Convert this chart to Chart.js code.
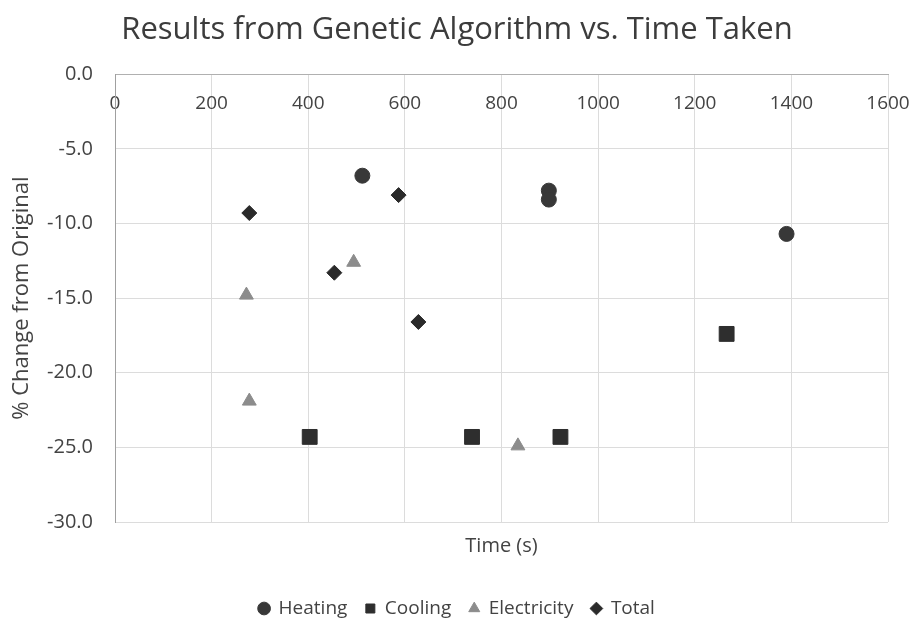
<!DOCTYPE html>
<html>
<head>
<meta charset="utf-8">
<script src="https://cdn.jsdelivr.net/npm/chart.js@4"></script>
<style>
  html, body { margin: 0; padding: 0; background: #ffffff; }
  #wrap { width: 914px; height: 622px; position: relative; }
</style>
</head>
<body>
<div id="wrap"><canvas id="chart" width="914" height="622"></canvas></div>
<script>
// Run time (s) and % change for each optimisation objective
const heatingTime = [512, 898, 898, 1390];
const heatingChange = [-6.8, -7.8, -8.4, -10.7];

const coolingTime = [403, 739, 922, 1266];
const coolingChange = [-24.3, -24.3, -24.3, -17.4];

const electricityTime = [272, 278, 494, 834];
const electricityChange = [-14.8, -21.9, -12.6, -24.9];

const totalTime = [278, 454, 587, 628];
const totalChange = [-9.3, -13.3, -8.1, -16.6];

const xTicks = [0, 200, 400, 600, 800, 1000, 1200, 1400, 1600];
const yTicks = [0, -5, -10, -15, -20, -25, -30];

const FONT = "'Open Sans', 'Noto Sans', sans-serif";
const TEXT = '#434343';
const GRID = '#dcdcdc';

function toPoints(xs, ys) {
  return xs.map((x, i) => ({ x: x, y: ys[i] }));
}

function series(label, xs, ys, style, color, radius) {
  return {
    label: label,
    data: toPoints(xs, ys),
    pointStyle: style,
    pointRadius: radius,
    pointHoverRadius: radius,
    backgroundColor: color,
    borderColor: color,
    borderWidth: 1,
    showLine: false
  };
}

new Chart(document.getElementById('chart'), {
  type: 'scatter',
  data: {
    datasets: [
      series('Heating', heatingTime, heatingChange, 'circle', '#383838', 7.5),
      series('Cooling', coolingTime, coolingChange, 'rect', '#2e2e2e', 10.5),
      series('Electricity', electricityTime, electricityChange, 'triangle', '#8c8c8c', 8),
      series('Total', totalTime, totalChange, 'rectRot', '#2a2a2a', 7.5)
    ]
  },
  options: {
    responsive: false,
    animation: false,
    layout: { padding: { left: 26, right: 26, top: 0, bottom: -6 } },
    scales: {
      x: {
        type: 'linear',
        position: { y: 0 },
        min: 0,
        max: 1600,
        afterBuildTicks: (scale) => { scale.ticks = xTicks.map(v => ({ value: v })); },
        // the end labels may overhang the plot edges
        afterFit: (scale) => { scale.paddingLeft = 0; scale.paddingRight = 0; },
        ticks: {
          color: TEXT,
          font: { family: FONT, size: 19 },
          padding: 18,
          callback: (v) => String(v)
        },
        grid: { color: GRID, lineWidth: 1, drawTicks: false },
        border: { display: true, color: '#b0b0b0' }
      },
      x2: {
        type: 'linear',
        position: 'bottom',
        min: 0,
        max: 1600,
        ticks: { display: false },
        grid: { display: false, drawTicks: false },
        border: { display: false },
        title: { display: true, text: 'Time (s)', color: TEXT, font: { family: FONT, size: 20 }, padding: { top: 12, bottom: 23 } }
      },
      y: {
        type: 'linear',
        min: -30,
        max: 0,
        afterBuildTicks: (scale) => { scale.ticks = yTicks.map(v => ({ value: v })); },
        afterFit: (scale) => { scale.width = 89; },
        ticks: {
          color: TEXT,
          font: { family: FONT, size: 20 },
          padding: 22,
          callback: (v) => Number(v).toFixed(1)
        },
        grid: { color: GRID, lineWidth: 1, drawTicks: false },
        border: { display: true, color: '#a0a0a0' },
        title: { display: true, text: '% Change from Original', color: TEXT, font: { family: FONT, size: 22 }, padding: { top: -17, bottom: 4 } }
      }
    },
    plugins: {
      title: {
        display: true,
        text: 'Results from Genetic Algorithm vs. Time Taken',
        color: '#3c3c3c',
        font: { family: FONT, size: 31, weight: 'normal' },
        padding: { top: 12, bottom: 25 }
      },
      legend: {
        position: 'bottom',
        labels: {
          usePointStyle: true,
          boxWidth: 10,
          boxHeight: 9,
          color: TEXT,
          font: { family: FONT, size: 19 },
          padding: 18
        }
      },
      tooltip: { enabled: false }
    }
  }
});
</script>
</body>
</html>
